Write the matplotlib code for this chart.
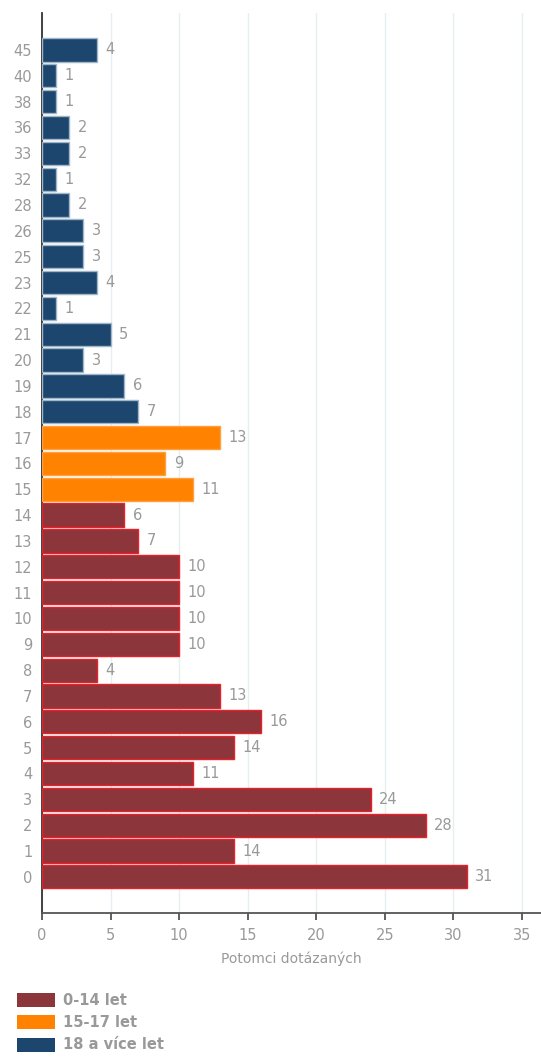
import matplotlib.pyplot as plt
from matplotlib.patches import Patch

# data
labels_young = ["0", "1", "2", "3", "4", "5", "6", "7", "8", "9", "10", "11", "12", "13", "14"]
values_young = [31, 14, 28, 24, 11, 14, 16, 13, 4, 10, 10, 10, 10, 7, 6]
labels_teen = ["15", "16", "17"]
values_teen = [11, 9, 13]
labels_adult = ["18", "19", "20", "21", "22", "23", "25", "26", "28", "32", "33", "36", "38", "40", "45"]
values_adult = [7, 6, 3, 5, 1, 4, 3, 3, 2, 1, 2, 2, 1, 1, 4]
group_names = ["0-14 let", "15-17 let", "18 a více let"]

plt.rcParams['font.family'] = ['DejaVu Sans']
gray = '#999999'

groups = [
    (labels_young, values_young, '#8c353b', '#e8202a'),
    (labels_teen, values_teen, '#ff8200', '#ffa040'),
    (labels_adult, values_adult, '#1c466e', '#9fb6c9'),
]

fig = plt.figure(figsize=(5.41, 10.57), dpi=100)
ax = fig.add_axes([0.0776, 0.1362, 0.9224, 0.8515])

pos = 0
for labs, vals, face, edge in groups:
    ys = list(range(pos, pos + len(vals)))
    ax.barh(ys, vals, height=0.9, color=face, edgecolor=edge, linewidth=1, zorder=3)
    for y, v in zip(ys, vals):
        ax.annotate(str(v), (v, y), xytext=(6, 0), textcoords='offset points',
                    va='center', ha='left', color=gray, fontsize=10.5)
    pos += len(vals)

all_labels = labels_young + labels_teen + labels_adult
ax.set_yticks(range(len(all_labels)))
ax.set_yticklabels(all_labels)
ax.set_ylim(-1.4, len(all_labels) - 1 + 1.43)
ax.set_xlim(0, 36.4)
ax.set_xticks(range(0, 36, 5))

ax.grid(axis='x', color='#e6eef0', linewidth=1, zorder=0)
ax.tick_params(axis='y', length=0, labelcolor=gray, labelsize=10.5, pad=7)
ax.tick_params(axis='x', length=5, width=1.2, color='#444444', labelcolor=gray, labelsize=10.5, pad=6)
for s in ['top', 'right']:
    ax.spines[s].set_visible(False)
ax.spines['left'].set_color('#333333')
ax.spines['left'].set_linewidth(1.3)
ax.spines['bottom'].set_color('#555555')
ax.spines['bottom'].set_linewidth(1.3)
ax.set_xlabel("Potomci dotázaných", color=gray, fontsize=10, labelpad=6)

handles = [Patch(facecolor=g[2], edgecolor='none') for g in groups]
fig.legend(handles, group_names, loc='lower left', bbox_to_anchor=(0.016, -0.004),
           frameon=False, handlelength=2.6, handleheight=1.1, labelspacing=0.5,
           handletextpad=0.5, prop={'weight': 'bold', 'size': 10.5}, labelcolor=gray,
           borderaxespad=0.2)

fig.savefig('out.png', dpi=100)
